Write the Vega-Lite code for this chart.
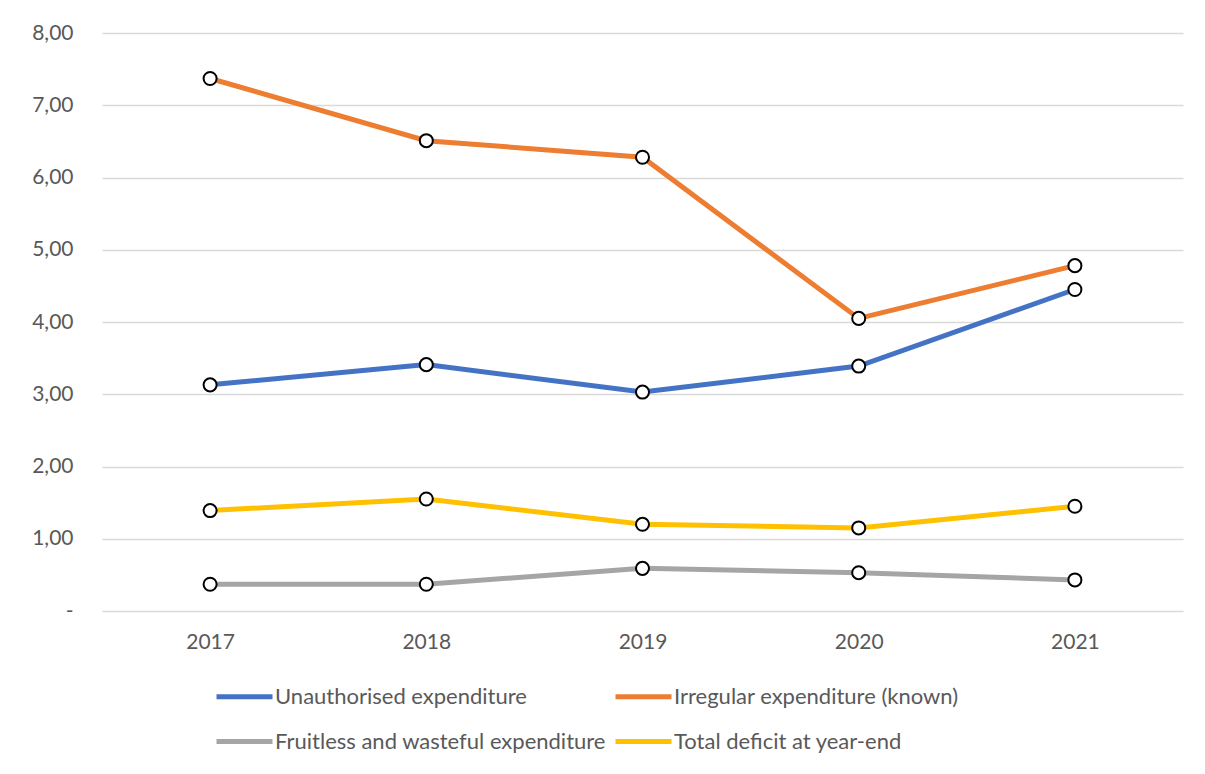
{
  "$schema": "https://vega.github.io/schema/vega-lite/v6.json",
  "width": 1081,
  "height": 578,
  "autosize": "none",
  "padding": {"left": 102, "top": 33, "right": 22, "bottom": 163},
  "background": "white",
  "config": {
    "view": {"stroke": null},
    "font": "Lato",
    "axis": {"labelFont": "Lato", "labelFontSize": 21, "labelColor": "#595959"},
    "legend": {"labelFont": "Lato", "labelFontSize": 22, "labelColor": "#595959"}
  },
  "data": {
    "values": [
      {"year": "2017", "series": "Unauthorised expenditure", "value": 3.13},
      {"year": "2018", "series": "Unauthorised expenditure", "value": 3.41},
      {"year": "2019", "series": "Unauthorised expenditure", "value": 3.03},
      {"year": "2020", "series": "Unauthorised expenditure", "value": 3.39},
      {"year": "2021", "series": "Unauthorised expenditure", "value": 4.45},
      {"year": "2017", "series": "Irregular expenditure (known)", "value": 7.37},
      {"year": "2018", "series": "Irregular expenditure (known)", "value": 6.51},
      {"year": "2019", "series": "Irregular expenditure (known)", "value": 6.28},
      {"year": "2020", "series": "Irregular expenditure (known)", "value": 4.05},
      {"year": "2021", "series": "Irregular expenditure (known)", "value": 4.78},
      {"year": "2017", "series": "Fruitless and wasteful expenditure", "value": 0.37},
      {"year": "2018", "series": "Fruitless and wasteful expenditure", "value": 0.37},
      {"year": "2019", "series": "Fruitless and wasteful expenditure", "value": 0.59},
      {"year": "2020", "series": "Fruitless and wasteful expenditure", "value": 0.53},
      {"year": "2021", "series": "Fruitless and wasteful expenditure", "value": 0.43},
      {"year": "2017", "series": "Total deficit at year-end", "value": 1.39},
      {"year": "2018", "series": "Total deficit at year-end", "value": 1.55},
      {"year": "2019", "series": "Total deficit at year-end", "value": 1.20},
      {"year": "2020", "series": "Total deficit at year-end", "value": 1.15},
      {"year": "2021", "series": "Total deficit at year-end", "value": 1.45}
    ]
  },
  "encoding": {
    "x": {
      "field": "year", "type": "ordinal", "title": null,
      "scale": {"type": "point", "padding": 0.5},
      "axis": {"labelAngle": 0, "domain": false, "ticks": false, "grid": false, "labelPadding": 20}
    },
    "y": {
      "field": "value", "type": "quantitative", "title": null,
      "scale": {"domain": [0, 8], "nice": false, "zero": true},
      "axis": {
        "values": [0, 1, 2, 3, 4, 5, 6, 7, 8],
        "labelExpr": "datum.value == 0 ? '-' : replace(format(datum.value, '.2f'), '.', ',')",
        "domain": false, "ticks": false,
        "grid": true, "gridColor": "#D9D9D9", "gridWidth": 1.5,
        "labelPadding": 29
      }
    }
  },
  "layer": [
    {
      "mark": {"type": "line", "strokeWidth": 5, "strokeCap": "round"},
      "encoding": {
        "color": {
          "field": "series", "type": "nominal",
          "scale": {
            "domain": ["Unauthorised expenditure", "Irregular expenditure (known)", "Fruitless and wasteful expenditure", "Total deficit at year-end"],
            "range": ["#4472C4", "#ED7D31", "#A5A5A5", "#FFC000"]
          },
          "legend": {
            "title": null, "orient": "none", "legendX": 113, "legendY": 651,
            "columns": 2, "direction": "horizontal",
            "symbolType": "M-2.8,0H2.8", "symbolSize": 400, "symbolStrokeWidth": 5, "symbolOffset": 17,
            "labelOffset": 18, "rowPadding": 21, "columnPadding": -1,
            "labelLimit": 600
          }
        }
      }
    },
    {
      "mark": {"type": "point", "filled": false, "fill": "white", "stroke": "black", "strokeWidth": 2, "size": 170, "opacity": 1, "fillOpacity": 1},
      "encoding": {
        "detail": {"field": "series", "type": "nominal"}
      }
    }
  ]
}
